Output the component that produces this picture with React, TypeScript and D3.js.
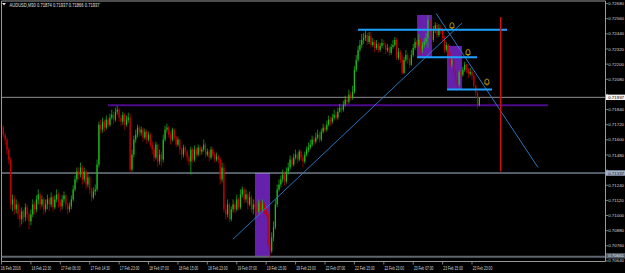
import React from 'react';
import * as d3 from 'd3';

// ---------- data (prices in 1e-5 units) ----------
const FIRST_OPEN = 71720;
const closes = [
71697,71641,71602,71523,71444,71088,71128,71049,71088,71009,
70970,71033,70986,71065,71009,70954,71009,71088,71049,71128,
71167,71088,71128,71049,71088,71128,71088,71144,71065,71128,
71167,71104,71073,71128,71160,71088,71049,71073,71128,71207,
71286,71349,71325,71381,71286,71349,71246,71302,71207,71144,
71191,71207,71404,71720,71681,71744,71697,71760,71720,71776,
71799,71760,71823,71839,71776,71744,71799,71720,71760,71776,
71365,71483,71602,71641,71697,71657,71681,71618,71665,71602,
71641,71562,71523,71460,71562,71428,71483,71444,71602,71681,
71697,71641,71602,71681,71618,71562,71602,71523,71483,71539,
71507,71460,71428,71523,71444,71523,71483,71539,71507,71523,
71562,71483,71507,71460,71523,71483,71444,71468,71444,71286,
71381,71049,71009,71088,70970,71049,71088,71049,71128,71065,
71167,71207,71128,71167,71088,71144,71049,71088,71065,71033,
71104,71049,71088,71033,71009,70772,70717,70828,70907,71088,
71207,71246,71286,71325,71270,71349,71381,71444,71404,71460,
71483,71444,71507,71460,71428,71483,71523,71539,71562,71602,
71586,71618,71641,71602,71665,71697,71681,71720,71760,71744,
71776,71799,71776,71823,71855,71839,71879,71918,71902,71958,
71934,71981,72155,72234,72313,72352,72392,72408,72431,72376,
72424,72352,72376,72329,72360,72313,72345,72368,72352,72313,
72329,72289,72337,72352,72392,72250,72297,72234,72131,72234,
72273,72234,72195,72273,72329,72376,72352,72392,72313,72352,
72376,72408,72550,72431,72392,72471,72510,72431,72487,72471,
72408,72313,72352,72273,72195,72234,72139,72076,72036,72139,
72116,72155,72195,72155,72123,72139,72108,72029,71973,71874,
71937];
const highs = [
71744,71713,71657,71618,71539,71460,71167,71160,71128,71112,
71049,71065,71049,71096,71088,71033,71049,71128,71112,71160,
71207,71183,71160,71144,71128,71167,71144,71183,71160,71160,
71207,71183,71128,71160,71191,71167,71104,71104,71160,71239,
71318,71381,71381,71420,71397,71381,71365,71333,71318,71223,
71223,71246,71444,71744,71760,71776,71760,71792,71776,71807,
71839,71823,71855,71871,71855,71799,71823,71815,71792,71815,
71807,71523,71634,71681,71720,71713,71705,71697,71689,71681,
71665,71657,71586,71539,71586,71570,71523,71507,71641,71713,
71728,71713,71665,71697,71689,71634,71626,71610,71539,71562,
71555,71523,71483,71547,71539,71555,71539,71562,71555,71547,
71602,71578,71531,71523,71547,71539,71507,71499,71483,71460,
71420,71420,71088,71128,71104,71073,71128,71112,71167,71144,
71207,71231,71223,71207,71183,71191,71160,71128,71128,71104,
71128,71120,71128,71104,71065,71033,70812,70867,70954,71128,
71246,71286,71318,71365,71349,71381,71420,71476,71468,71491,
71523,71499,71523,71523,71483,71507,71547,71578,71602,71634,
71626,71657,71681,71665,71689,71728,71720,71752,71792,71784,
71807,71839,71823,71855,71886,71879,71910,71950,71942,71997,
71981,72029,72187,72273,72345,72392,72439,72447,72471,72447,
72455,72455,72408,72392,72392,72376,72368,72400,72392,72368,
72360,72345,72360,72392,72416,72408,72329,72313,72273,72258,
72313,72289,72250,72313,72360,72408,72392,72439,72408,72376,
72408,72447,72589,72550,72455,72503,72534,72526,72518,72510,
72487,72424,72376,72360,72297,72266,72250,72155,72092,72155,
72155,72179,72218,72202,72171,72171,72155,72123,72036,71981,
71937];
const lows = [
71665,71618,71562,71483,71404,71049,71033,71009,71017,70970,
70907,70930,70946,70954,70970,70891,70923,70986,71009,71025,
71088,71049,71065,71009,71025,71049,71033,71065,71033,71049,
71104,71065,71033,71049,71104,71049,71009,71025,71049,71112,
71191,71262,71286,71302,71246,71262,71207,71223,71167,71112,
71128,71160,71191,71381,71649,71657,71665,71681,71697,71705,
71760,71728,71744,71799,71744,71713,71720,71681,71705,71736,
71341,71349,71460,71578,71618,71626,71634,71586,71602,71570,
71586,71539,71483,71428,71444,71389,71404,71389,71420,71586,
71657,71618,71562,71586,71594,71539,71547,71483,71444,71460,
71476,71428,71397,71325,71420,71428,71460,71468,71476,71483,
71507,71460,71468,71428,71444,71460,71420,71428,71412,71246,
71262,71025,70970,70986,70946,70954,71025,71017,71033,71041,
71049,71144,71096,71104,71049,71073,71025,71009,71033,70994,
71017,71025,71033,71009,70986,70749,70661,70701,70796,70891,
71065,71191,71223,71262,71239,71254,71325,71365,71381,71389,
71444,71412,71428,71436,71381,71412,71468,71499,71523,71547,
71555,71570,71602,71578,71586,71649,71657,71665,71705,71713,
71728,71760,71752,71760,71815,71815,71823,71863,71879,71886,
71910,71918,71965,72139,72218,72297,72329,72360,72384,72352,
72360,72329,72337,72297,72313,72289,72297,72329,72321,72281,
72297,72266,72274,72321,72337,72234,72234,72210,72116,72123,
72218,72202,72171,72187,72258,72313,72329,72337,72273,72289,
72329,72352,72329,72408,72352,72376,72447,72408,72416,72439,
72384,72289,72297,72250,72171,72171,72116,72052,72005,72021,
72084,72100,72139,72131,72092,72108,72076,72013,71950,71847,
71866];

const timeLabels = ['16 Feb 2016','16 Feb 22:30','17 Feb 06:30','17 Feb 14:30','17 Feb 23:00',
  '18 Feb 07:00','18 Feb 15:00','18 Feb 23:00','19 Feb 07:00','19 Feb 15:00','19 Feb 23:00',
  '22 Feb 07:00','22 Feb 15:00','22 Feb 23:00','23 Feb 07:00','23 Feb 15:00','23 Feb 23:00'];
const LABEL_EVERY = 16;
const priceTicks = [72680,72560,72440,72320,72200,72080,71960,71840,71720,71600,71480,71360,71240,71120,71000,70880,70760,70640];

const titleText = 'AUDUSD,M30  0.71874 0.71937 0.71866 0.71937';
const bidPrice = 71937;
const levelPrice = 71337;
const lowPrice = 70661;

// annotations: bar index / price
const purpleLevel = { i0: 57.9, i1: 297.3, p: 71875 };
const zones = [
  { i0: 137.9, i1: 146.1, p0: 71337, p1: 70670 },
  { i0: 226.1, i1: 234.2, p0: 72590, p1: 72255 },
  { i0: 242.4, i1: 250.5, p0: 72345, p1: 72000 },
];
const blueLevels = [
  { i0: 194.0, i1: 275.0, p: 72473 },
  { i0: 226.1, i1: 258.7, p: 72255 },
  { i0: 242.4, i1: 266.9, p: 72000 },
];
const bells = [
  { i: 245.1, p: 72505 },
  { i: 253.8, p: 72292 },
  { i: 264.1, p: 72058 },
];
const trendLines = [
  { i0: 125.9, p0: 70812, i1: 250.5, p1: 72526 },
  { i0: 236.4, p0: 72603, i1: 291.9, p1: 71381 },
];
const redVLine = { i: 271.6, p0: 72574, p1: 71349 };

const W = 625, H = 273;
const PL = 1.5, PR = 605.5, PT = 1, PB = 261.5;

export default function App() {
  const x = d3.scaleLinear().domain([0, 256]).range([1.5, 1.5 + 256 * 1.838]);
  const y = d3.scaleLinear().domain([72680, 70661]).range([3.6, 258.3]);
  const fmt = (p: number) => (p / 1e5).toFixed(5);
  const bull = '#1DBE1D', bear = '#C80000';
  const frame = '#9A9A9A';

  const candles = closes.map((c, i) => {
    const o = i === 0 ? FIRST_OPEN : closes[i - 1];
    const h = Math.max(highs[i], o, c), l = Math.min(lows[i], o, c);
    const up = c >= o;
    const col = up ? bull : bear;
    const cx = x(i);
    const yt = y(Math.max(o, c)), yb = y(Math.min(o, c));
    return (
      <g key={i}>
        <line x1={cx} x2={cx} y1={y(h)} y2={y(l)} stroke={col} strokeWidth={0.7} />
        <rect x={cx - 0.6} width={1.2} y={yt} height={Math.max(0.6, yb - yt)} fill={col} />
      </g>
    );
  });

  const bell = (cx: number, cy: number, k: number) => (
    <g key={'b' + k} stroke="#E2B400" strokeWidth={0.8} fill="none">
      <path d={`M${cx - 2} ${cy + 2} L${cx - 2} ${cy - 0.5} Q${cx - 2} ${cy - 3} ${cx} ${cy - 3} Q${cx + 2} ${cy - 3} ${cx + 2} ${cy - 0.5} L${cx + 2} ${cy + 2} Z`} />
      <line x1={cx - 0.8} x2={cx + 0.8} y1={cy + 2.8} y2={cy + 2.8} />
    </g>
  );

  const boxes = [
    { p: bidPrice, cy: y(bidPrice), bg: '#F4F4F4', fg: '#000' },
    { p: levelPrice, cy: y(levelPrice), bg: '#9FB2CA', fg: '#1A1A1A' },
    { p: lowPrice, cy: Math.min(y(lowPrice), 255.8), bg: '#56606C', fg: '#E6E6E6' },
  ];
  // tick labels that sit under a marker box are hidden, as in the reference
  const visibleTicks = priceTicks.filter((p) => boxes.every((b) => Math.abs(y(p) - b.cy) > 4.5));

  return (
    <svg width={W} height={H} style={{ position: 'fixed', left: 0, top: 0, background: '#000' }}
      fontFamily="'Liberation Sans', Arial, sans-serif">
      <rect x={0} y={0} width={W} height={H} fill="#000" />
      {zones.map((z, k) => (
        <rect key={'z' + k} x={x(z.i0)} y={y(z.p0)} width={x(z.i1) - x(z.i0)} height={y(z.p1) - y(z.p0)} fill="#6520AC" />
      ))}
      <line x1={PL} x2={PR} y1={y(bidPrice)} y2={y(bidPrice)} stroke="#8E8E8E" strokeWidth={1} />
      <line x1={PL} x2={PR} y1={y(levelPrice)} y2={y(levelPrice)} stroke="#A9B8CC" strokeWidth={1} />
      <line x1={PL} x2={PR} y1={y(lowPrice) - 1.5} y2={y(lowPrice) - 1.5} stroke="#5E666F" strokeWidth={2} />
      <line x1={x(purpleLevel.i0)} x2={x(purpleLevel.i1)} y1={y(purpleLevel.p)} y2={y(purpleLevel.p)} stroke="#4E0A8C" strokeWidth={2} />
      {candles}
      {trendLines.map((t, k) => (
        <line key={'t' + k} x1={x(t.i0)} y1={y(t.p0)} x2={x(t.i1)} y2={y(t.p1)} stroke="#2E7FD0" strokeWidth={0.9} />
      ))}
      {blueLevels.map((b, k) => (
        <line key={'bl' + k} x1={x(b.i0)} x2={x(b.i1)} y1={y(b.p)} y2={y(b.p)} stroke="#1FA2FF" strokeWidth={2} />
      ))}
      {bells.map((b, k) => bell(x(b.i), y(b.p), k))}
      <line x1={x(redVLine.i)} x2={x(redVLine.i)} y1={y(redVLine.p0)} y2={y(redVLine.p1)} stroke="#D01010" strokeWidth={1.4} />

      {/* frame */}
      <line x1={PL} x2={PR} y1={PT} y2={PT} stroke={frame} strokeWidth={1} />
      <line x1={PL} x2={PL} y1={PT} y2={PB} stroke={frame} strokeWidth={1} />
      <line x1={PR} x2={PR} y1={PT} y2={PB} stroke={frame} strokeWidth={1} />
      <line x1={PL} x2={PR} y1={PB} y2={PB} stroke={frame} strokeWidth={1} />

      {/* price axis */}
      {priceTicks.map((p) => (
        <line key={'pt' + p} x1={PR} x2={PR + 2.5} y1={y(p)} y2={y(p)} stroke={frame} strokeWidth={0.8} />
      ))}
      {visibleTicks.map((p) => (
        <text key={'p' + p} x={608.2} y={Math.min(y(p), 260.6) + 1.6} fontSize={4.4} fill="#D8D8D8">{fmt(p)}</text>
      ))}
      {boxes.map((b, k) => (
        <g key={'bx' + k}>
          <rect x={606} y={b.cy - 2.7} width={19} height={5.4} fill={b.bg} />
          <text x={608.2} y={b.cy + 1.6} fontSize={4.4} fill={b.fg}>{fmt(b.p)}</text>
        </g>
      ))}

      {/* time axis */}
      {timeLabels.map((t, k) => {
        const xx = x(k * LABEL_EVERY);
        return (
          <g key={'tl' + k}>
            <line x1={xx} x2={xx} y1={PB} y2={PB + 3} stroke={frame} strokeWidth={0.8} />
            <text x={k === 0 ? 0.7 : xx + 0.7} y={270.3} fontSize={4.6} fill="#D8D8D8" textLength={k === 0 ? 20 : 19.5} lengthAdjust="spacingAndGlyphs">{t}</text>
          </g>
        );
      })}

      {/* title */}
      <path d="M2 3 L6 3 L4 5.6 Z" fill="#E0E0E0" />
      <text x={9.5} y={7.2} fontSize={5.2} fill="#E0E0E0" textLength={90} lengthAdjust="spacingAndGlyphs">{titleText}</text>
    </svg>
  );
}
